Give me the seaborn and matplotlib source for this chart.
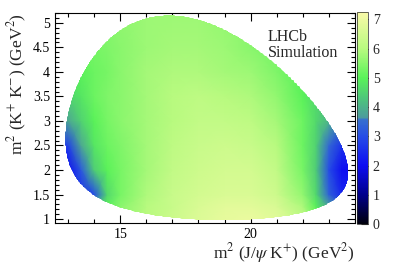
import numpy as np
import matplotlib
matplotlib.use("Agg")
import matplotlib.pyplot as plt
import seaborn as sns
from matplotlib.colors import LinearSegmentedColormap
from matplotlib.path import Path
from matplotlib.ticker import MultipleLocator, FormatStrFormatter

# masses (GeV)
m_B = 5.3669
m_jpsi = 3.0969
m_k = 0.4937

# efficiency map nodes
x_nodes = [12.5, 13.0, 13.5, 14.0, 14.5, 15.0, 16.0, 17.0, 18.0, 19.0, 20.0, 21.0, 22.0, 22.5, 23.0, 23.5, 24.0]
y_nodes = [0.9, 1.25, 1.5, 2.0, 2.5, 3.0, 3.5, 4.0, 4.5, 5.2]
eff = [
    [5.0, 5.0, 5.0, 5.0, 5.3, 5.6, 6.0, 6.4, 6.7, 6.9, 7.0, 6.8, 6.3, 5.6, 4.4, 3.6, 3.6],
    [3.2, 3.2, 3.2, 4.0, 5.0, 5.5, 6.0, 6.3, 6.6, 6.8, 6.8, 6.6, 5.9, 5.0, 3.8, 3.0, 3.0],
    [2.5, 2.5, 2.5, 3.0, 4.6, 5.3, 5.9, 6.3, 6.5, 6.6, 6.6, 6.4, 5.6, 4.6, 3.3, 2.4, 2.4],
    [2.0, 2.0, 3.2, 4.4, 5.0, 5.3, 5.8, 6.2, 6.4, 6.5, 6.5, 6.2, 5.3, 4.4, 3.0, 2.0, 2.0],
    [2.8, 2.8, 3.8, 4.8, 5.2, 5.4, 5.8, 6.1, 6.3, 6.4, 6.3, 6.0, 5.2, 4.5, 3.4, 2.6, 2.6],
    [3.8, 3.8, 4.5, 5.0, 5.3, 5.5, 5.8, 6.0, 6.2, 6.2, 6.1, 5.8, 5.2, 4.6, 4.0, 3.5, 3.5],
    [4.5, 4.5, 4.8, 5.2, 5.4, 5.5, 5.8, 6.0, 6.1, 6.0, 5.9, 5.6, 5.0, 4.6, 4.2, 4.0, 4.0],
    [5.0, 5.0, 5.0, 5.2, 5.3, 5.5, 5.8, 5.9, 5.9, 5.8, 5.7, 5.4, 5.0, 4.8, 4.5, 4.5, 4.5],
    [5.2, 5.2, 5.2, 5.3, 5.4, 5.5, 5.7, 5.8, 5.8, 5.7, 5.5, 5.3, 5.0, 5.0, 5.0, 5.0, 5.0],
    [5.4, 5.4, 5.4, 5.4, 5.5, 5.6, 5.7, 5.7, 5.7, 5.6, 5.5, 5.3, 5.2, 5.2, 5.2, 5.2, 5.2],
]
z_max = 7.25

sns.set_theme(style="ticks")
plt.rcParams["font.family"] = ["Liberation Serif", "DejaVu Serif"]
plt.rcParams["mathtext.fontset"] = "stix"

vmax = z_max
stops = [
    (0.0, (0.0, 0.0, 0.05)),
    (1.0, (0.0, 0.0, 0.55)),
    (2.0, (0.05, 0.05, 0.95)),
    (3.0, (0.15, 0.30, 0.90)),
    (3.6, (0.22, 0.45, 0.80)),
    (3.62, (0.30, 0.60, 0.62)),
    (4.2, (0.30, 0.75, 0.50)),
    (5.0, (0.35, 0.95, 0.35)),
    (6.0, (0.72, 0.98, 0.50)),
    (7.25, (0.98, 0.98, 0.66)),
]
cmap = LinearSegmentedColormap.from_list("lhcb", [(v / vmax, c) for v, c in stops])

# Dalitz boundary
s23 = (2 * m_k) ** 2 + ((m_B - m_jpsi) ** 2 - (2 * m_k) ** 2) * (1 - np.cos(np.linspace(0, np.pi, 400))) / 2
m23 = np.sqrt(s23)
e_k = m23 / 2
e_j = (m_B ** 2 - s23 - m_jpsi ** 2) / (2 * m23)
p_k = np.sqrt(np.clip(e_k ** 2 - m_k ** 2, 0, None))
p_j = np.sqrt(np.clip(e_j ** 2 - m_jpsi ** 2, 0, None))
s12_lo = (e_j + e_k) ** 2 - (p_j + p_k) ** 2
s12_hi = (e_j + e_k) ** 2 - (p_j - p_k) ** 2
bx = np.concatenate([s12_lo, s12_hi[::-1]])
by = np.concatenate([s23, s23[::-1]])

fig = plt.figure(figsize=(3.94, 2.67), dpi=100)
ax = fig.add_axes([0.1396, 0.1648, 0.7614, 0.7865])
cax = fig.add_axes([0.906, 0.161, 0.028, 0.794])

X, Y = np.meshgrid(x_nodes, y_nodes)
pcm = ax.pcolormesh(X, Y, np.array(eff), shading="gouraud", cmap=cmap, vmin=0, vmax=vmax)
pcm.set_clip_path(Path(np.column_stack([bx, by])), ax.transData)

ax.set_xlim(12.5, 24.0)
ax.set_ylim(0.92, 5.2)
ax.xaxis.set_major_locator(MultipleLocator(5))
ax.xaxis.set_minor_locator(MultipleLocator(1))
ax.yaxis.set_major_locator(MultipleLocator(0.5))
ax.yaxis.set_minor_locator(MultipleLocator(0.1))
ax.yaxis.set_major_formatter(FormatStrFormatter("%g"))
ax.tick_params(which="both", direction="in", top=True, right=True, labelsize=10, colors="black", width=0.8)
ax.tick_params(which="major", length=6)
ax.tick_params(which="minor", length=3)
for sp in ax.spines.values():
    sp.set_linewidth(0.8)
    sp.set_color("black")

ax.set_xlabel(r"m$^{2}$ (J/$\psi$ K$^{+}$) (GeV$^{2}$)", fontsize=12.5, loc="right", labelpad=0)
ax.set_ylabel(r"m$^{2}$ (K$^{+}$ K$^{-}$) (GeV$^{2}$)", fontsize=12.5, loc="top", labelpad=3)

ax.text(0.71, 0.925, "LHCb\nSimulation", transform=ax.transAxes, fontsize=11.5,
        ha="left", va="top", linespacing=1.0)

cb = fig.colorbar(pcm, cax=cax)
cb.set_ticks(range(0, 8))
cb.ax.tick_params(direction="in", length=5, labelsize=10, width=0.8)
cb.outline.set_linewidth(0.5)

fig.savefig("out.png", dpi=100)
